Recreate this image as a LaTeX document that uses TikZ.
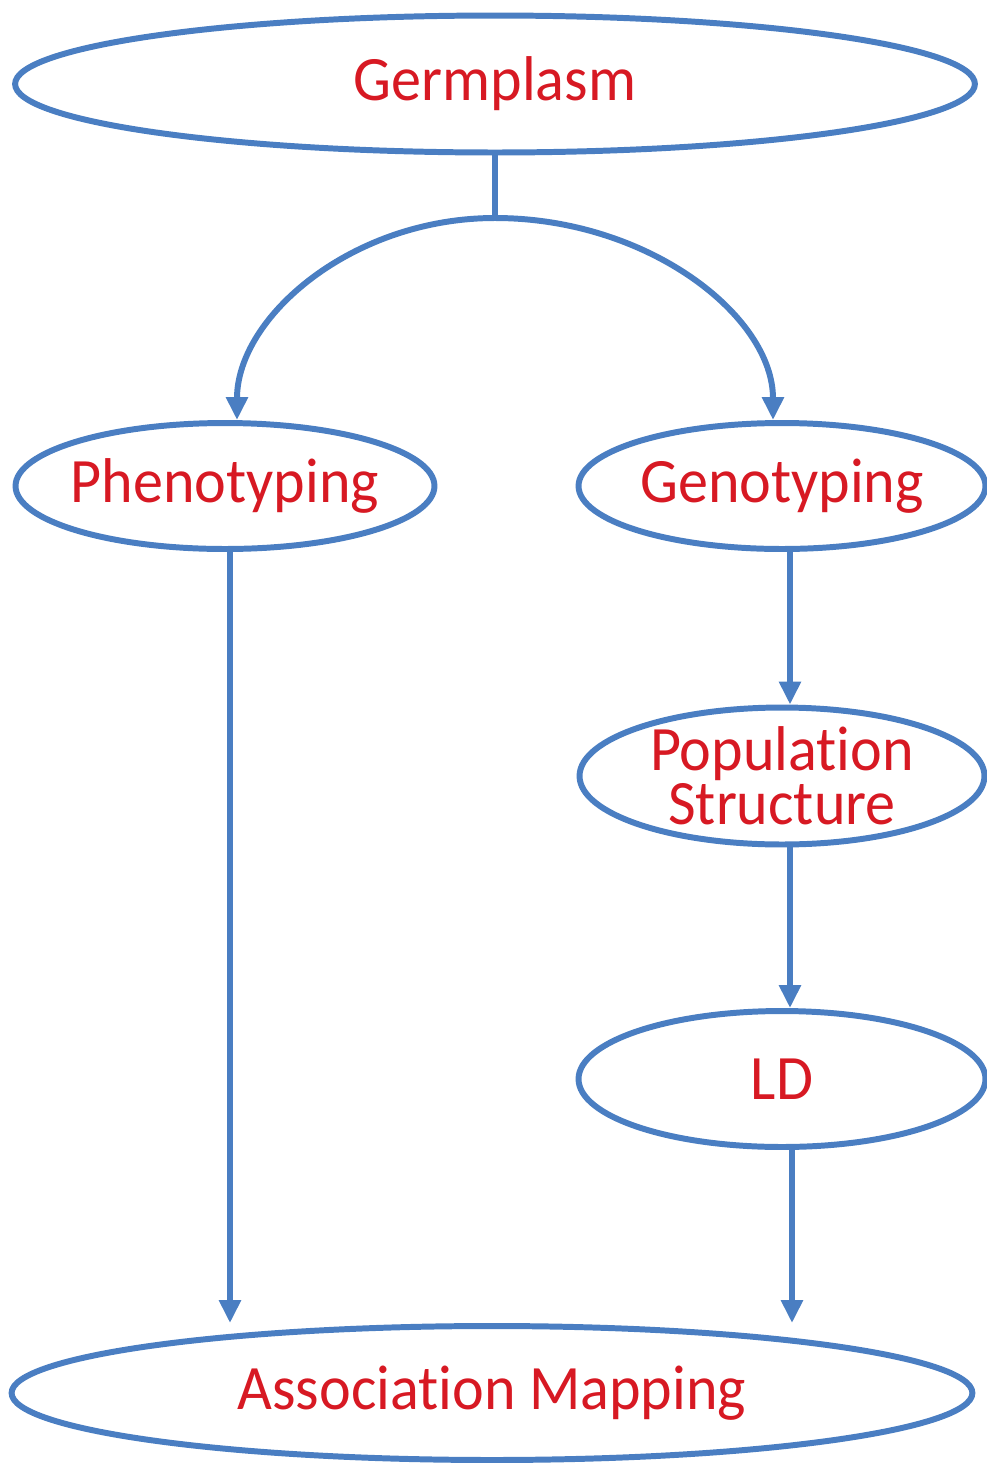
\documentclass[tikz,border=0pt]{standalone}
\usepackage{fontspec}
\setmainfont{Carlito}[Ligatures=NoCommon, FakeStretch=0.95]
\usetikzlibrary{arrows.meta,positioning,shapes.geometric}
\definecolor{lineblue}{RGB}{74,126,194}
\definecolor{textred}{RGB}{215,25,35}

\begin{document}
\begin{tikzpicture}[
		x = 0.02cm, y = -0.02cm,
		line width = 3.4pt,
		oval/.style = {ellipse, draw = lineblue, inner xsep = -0.6cm, inner ysep = -0.45cm, text = textred, font = \fontsize{36}{31}\selectfont, align = center},
		flow/.style = {draw = lineblue, -{Triangle[length = 4.6mm, width = 4.2mm]}}
		]
\useasboundingbox (0,0) rectangle (987,1465);

\node[oval, minimum width = 19.2cm, minimum height = 2.74cm] (germ) at (495,84) {Germplasm};
\node[oval, minimum width = 8.38cm, minimum height = 2.52cm] (pheno) at (225,486) {Phenotyping};
\node[oval, minimum width = 8.14cm, minimum height = 2.52cm] (geno) at (782,486) {Genotyping};
\node[oval, minimum width = 8.1cm, minimum height = 2.74cm] (pop) at (782,776) {Population\\Structure};
\node[oval, minimum width = 8.14cm, minimum height = 2.72cm] (ld) at (782,1079) {LD};
\node[oval, minimum width = 19.22cm, minimum height = 2.68cm] (assoc) at (492,1393) {Association Mapping};

% fork below the germplasm
\coordinate (fork) at (495,218);
\draw[draw = lineblue] (germ.south) -- (fork);
\draw[flow] (fork) .. controls +(-143,0) and +(0,-103) .. ([xshift = 0.24cm]pheno.north);
\draw[flow] (fork) .. controls +(153,0) and +(0,-104) .. ([xshift = -0.18cm]geno.north);

\draw[flow] ([xshift = 0.1cm]pheno.south) -- ([xshift = 0.1cm]pheno.south |- assoc.north);
\draw[flow] ([xshift = 0.16cm]geno.south) -- ([xshift = 0.16cm]pop.north);
\draw[flow] ([xshift = 0.16cm]pop.south) -- ([xshift = 0.16cm]ld.north);
\draw[flow] ([xshift = 0.2cm]ld.south) -- ([xshift = 0.2cm]ld.south |- assoc.north);

\end{tikzpicture}
\end{document}
